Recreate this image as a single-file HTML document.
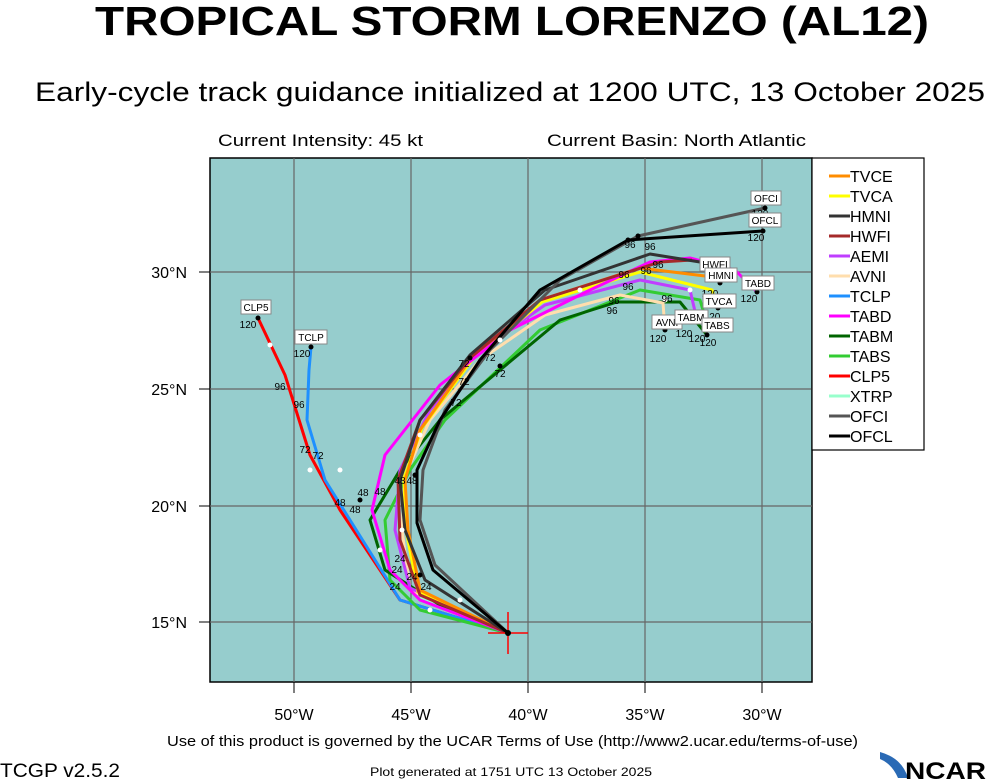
<!DOCTYPE html>
<html><head><meta charset="utf-8"><style>
html,body{margin:0;padding:0;background:#fff;}
svg{display:block;font-family:"Liberation Sans",Arial,sans-serif;}
</style></head><body>
<svg width="987" height="780" viewBox="0 0 987 780" xmlns="http://www.w3.org/2000/svg">
<text x="512" y="35" text-anchor="middle" font-size="41" font-weight="bold" textLength="834" lengthAdjust="spacingAndGlyphs">TROPICAL STORM LORENZO (AL12)</text>
<text x="510" y="101" text-anchor="middle" font-size="27" textLength="950" lengthAdjust="spacingAndGlyphs">Early-cycle track guidance initialized at 1200 UTC, 13 October 2025</text>
<text x="218" y="146" font-size="17" textLength="205" lengthAdjust="spacingAndGlyphs">Current Intensity: 45 kt</text>
<text x="547" y="146" font-size="17" textLength="259" lengthAdjust="spacingAndGlyphs">Current Basin: North Atlantic</text>
<rect x="210" y="158" width="602" height="524" fill="#96cdcd" stroke="#000" stroke-width="1.5"/>
<g stroke="#666" stroke-width="1.2">
<line x1="294" y1="158" x2="294" y2="682"/><line x1="411" y1="158" x2="411" y2="682"/><line x1="528" y1="158" x2="528" y2="682"/><line x1="645" y1="158" x2="645" y2="682"/><line x1="762" y1="158" x2="762" y2="682"/>
<line x1="210" y1="272" x2="812" y2="272"/><line x1="210" y1="389" x2="812" y2="389"/><line x1="210" y1="506" x2="812" y2="506"/><line x1="210" y1="622" x2="812" y2="622"/>
</g>
<g stroke="#000" stroke-width="1"><line x1="294" y1="682" x2="294" y2="693"/><line x1="411" y1="682" x2="411" y2="693"/><line x1="528" y1="682" x2="528" y2="693"/><line x1="645" y1="682" x2="645" y2="693"/><line x1="762" y1="682" x2="762" y2="693"/>
<line x1="199" y1="272" x2="210" y2="272"/><line x1="199" y1="389" x2="210" y2="389"/><line x1="199" y1="506" x2="210" y2="506"/><line x1="199" y1="622" x2="210" y2="622"/></g>
<g font-size="16" text-anchor="middle"><text x="294" y="720">50°W</text><text x="411" y="720">45°W</text><text x="528" y="720">40°W</text><text x="645" y="720">35°W</text><text x="762" y="720">30°W</text></g>
<g font-size="16" text-anchor="end"><text x="187" y="278">30°N</text><text x="187" y="395">25°N</text><text x="187" y="512">20°N</text><text x="187" y="628">15°N</text></g>
<g fill="none" stroke-width="3" stroke-linejoin="round">
<polyline stroke="#98ffcc" points="508,633 420,598"/>
<polyline stroke="#ff0000" points="508,633 400,600 340,510 310,455 285,375 258,318"/>
<polyline stroke="#1e90ff" points="508,633 400,600 350,520 325,480 307,420 309,370 311,347"/>
<polyline stroke="#33cc33" points="508,633 420,610 390,580 385,520 410,470 445,420 540,330 640,290 700,300 706,320"/>
<polyline stroke="#006400" points="508,633 440,605 385,570 370,520 400,470 440,420 500,370 560,320 617,302 680,302 707,335"/>
<polyline stroke="#ffdead" points="508,633 410,590 402,530 405,475 430,420 480,360 545,315 620,295 663,303 665,330"/>
<polyline stroke="#bf3eff" points="508,633 410,588 395,530 400,470 430,410 480,350 545,305 640,280 690,290 697,320"/>
<polyline stroke="#ffff00" points="508,633 418,592 406,530 404,478 422,428 472,360 542,302 640,272 712,290 718,308"/>
<polyline stroke="#ff8c00" points="508,633 420,590 408,530 405,480 420,430 470,360 540,300 640,268 705,276"/>
<polyline stroke="#ff00ff" points="508,633 420,600 390,570 372,510 385,455 440,385 510,330 590,290 650,262 690,258 735,270 757,292"/>
<polyline stroke="#a52a2a" points="508,633 420,595 400,540 398,480 420,420 470,358 540,300 660,262 692,260"/>
<polyline stroke="#333" points="508,633 425,580 405,530 400,480 420,420 470,355 545,290 650,254 700,262 720,283"/>
<polyline stroke="#555" points="508,633 435,565 420,520 423,470 445,410 490,350 560,280 638,236 765,208"/>
<polyline stroke="#000" points="508,633 433,570 417,523 417,470 440,420 480,360 540,290 628,240 763,231"/>
</g>
<g stroke="#ff0000" stroke-width="1.5"><line x1="508" y1="612" x2="508" y2="654"/><line x1="488" y1="633" x2="528" y2="633"/></g>
<circle cx="508" cy="633" r="3"/>
<g fill="#fff"><circle cx="430" cy="610" r="2.5"/><circle cx="460" cy="600" r="2.5"/><circle cx="402" cy="530" r="2.5"/><circle cx="420" cy="435" r="2.5"/><circle cx="500" cy="340" r="2.5"/><circle cx="580" cy="290" r="2.5"/><circle cx="690" cy="290" r="2.5"/><circle cx="665" cy="300" r="2.5"/><circle cx="310" cy="470" r="2.5"/><circle cx="270" cy="345" r="2.5"/><circle cx="340" cy="470" r="2.5"/><circle cx="380" cy="550" r="2.5"/></g>
<g fill="#000"><circle cx="763" cy="231" r="2.5"/><circle cx="765" cy="208" r="2.5"/><circle cx="720" cy="283" r="2.5"/><circle cx="757" cy="292" r="2.5"/><circle cx="718" cy="308" r="2.5"/><circle cx="707" cy="335" r="2.5"/><circle cx="665" cy="330" r="2.5"/><circle cx="258" cy="318" r="2.5"/><circle cx="311" cy="347" r="2.5"/><circle cx="638" cy="236" r="2.5"/><circle cx="628" cy="240" r="2.5"/><circle cx="500" cy="366" r="2.5"/><circle cx="470" cy="358" r="2.5"/><circle cx="360" cy="500" r="2.5"/><circle cx="415" cy="475" r="2.5"/><circle cx="420" cy="575" r="2.5"/></g>
<g font-size="10" text-anchor="middle">
<text x="756" y="241">120</text><text x="760" y="217">120</text><text x="749" y="302">120</text><text x="710" y="297">120</text><text x="712" y="320">120</text><text x="708" y="346">120</text><text x="658" y="342">120</text><text x="684" y="337">120</text><text x="697" y="342">120</text><text x="248" y="328">120</text><text x="302" y="357">120</text>
<text x="630" y="248">96</text><text x="650" y="250">96</text><text x="624" y="278">96</text><text x="646" y="274">96</text><text x="658" y="268">96</text><text x="628" y="290">96</text><text x="614" y="304">96</text><text x="612" y="314">96</text><text x="667" y="302">96</text><text x="280" y="390">96</text><text x="299" y="408">96</text>
<text x="464" y="367">72</text><text x="490" y="361">72</text><text x="464" y="385">72</text><text x="456" y="406">72</text><text x="500" y="377">72</text><text x="305" y="453">72</text><text x="318" y="459">72</text>
<text x="340" y="506">48</text><text x="363" y="496">48</text><text x="355" y="513">48</text><text x="380" y="495">48</text><text x="400" y="484">48</text><text x="412" y="484">48</text>
<text x="400" y="562">24</text><text x="397" y="573">24</text><text x="395" y="590">24</text><text x="412" y="580">24</text><text x="426" y="590">24</text>
</g>
<g font-size="10" text-anchor="middle">
<rect x="751" y="191" width="30" height="14" fill="#fff" stroke="#888"/><text x="766" y="202">OFCI</text>
<rect x="749" y="213" width="32" height="14" fill="#fff" stroke="#888"/><text x="765" y="224">OFCL</text>
<rect x="700" y="257" width="30" height="14" fill="#fff" stroke="#888"/><text x="715" y="268">HWFI</text>
<rect x="705" y="268" width="32" height="14" fill="#fff" stroke="#888"/><text x="721" y="279">HMNI</text>
<rect x="742" y="276" width="32" height="14" fill="#fff" stroke="#888"/><text x="758" y="287">TABD</text>
<rect x="703" y="294" width="33" height="14" fill="#fff" stroke="#888"/><text x="719" y="305">TVCA</text>
<rect x="652" y="315" width="30" height="14" fill="#fff" stroke="#888"/><text x="667" y="326">AVNI</text>
<rect x="675" y="310" width="33" height="14" fill="#fff" stroke="#888"/><text x="691" y="321">TABM</text>
<rect x="702" y="318" width="31" height="14" fill="#fff" stroke="#888"/><text x="717" y="329">TABS</text>
<rect x="241" y="300" width="30" height="14" fill="#fff" stroke="#888"/><text x="256" y="311">CLP5</text>
<rect x="295" y="330" width="32" height="14" fill="#fff" stroke="#888"/><text x="311" y="341">TCLP</text>
</g>
<rect x="812" y="158" width="112" height="292" fill="#fff" stroke="#000" stroke-width="1.2"/>
<g stroke-width="3">
<line x1="829" y1="176" x2="850" y2="176" stroke="#ff8c00"/><line x1="829" y1="196" x2="850" y2="196" stroke="#ffff00"/><line x1="829" y1="216" x2="850" y2="216" stroke="#333"/><line x1="829" y1="236" x2="850" y2="236" stroke="#a52a2a"/><line x1="829" y1="256" x2="850" y2="256" stroke="#bf3eff"/><line x1="829" y1="276" x2="850" y2="276" stroke="#ffdead"/><line x1="829" y1="296" x2="850" y2="296" stroke="#1e90ff"/><line x1="829" y1="316" x2="850" y2="316" stroke="#ff00ff"/><line x1="829" y1="336" x2="850" y2="336" stroke="#006400"/><line x1="829" y1="356" x2="850" y2="356" stroke="#33cc33"/><line x1="829" y1="376" x2="850" y2="376" stroke="#ff0000"/><line x1="829" y1="396" x2="850" y2="396" stroke="#98ffcc"/><line x1="829" y1="416" x2="850" y2="416" stroke="#555"/><line x1="829" y1="436" x2="850" y2="436" stroke="#000"/>
</g>
<g font-size="16"><text x="850" y="182">TVCE</text><text x="850" y="202">TVCA</text><text x="850" y="222">HMNI</text><text x="850" y="242">HWFI</text><text x="850" y="262">AEMI</text><text x="850" y="282">AVNI</text><text x="850" y="302">TCLP</text><text x="850" y="322">TABD</text><text x="850" y="342">TABM</text><text x="850" y="362">TABS</text><text x="850" y="382">CLP5</text><text x="850" y="402">XTRP</text><text x="850" y="422">OFCI</text><text x="850" y="442">OFCL</text></g>
<text x="167" y="746" font-size="15" textLength="691" lengthAdjust="spacingAndGlyphs">Use of this product is governed by the UCAR Terms of Use (http://www2.ucar.edu/terms-of-use)</text>
<text x="0" y="777" font-size="19" textLength="120" lengthAdjust="spacingAndGlyphs">TCGP v2.5.2</text>
<text x="370" y="776" font-size="12" textLength="282" lengthAdjust="spacingAndGlyphs">Plot generated at 1751 UTC   13 October 2025</text>
<path d="M880 752 Q902 758 908 778 L898 778 Q892 764 880 759 Z" fill="#2a6ab5"/>
<text x="905" y="779" font-size="24" font-weight="bold" textLength="81" lengthAdjust="spacingAndGlyphs">NCAR</text>
</svg>
</body></html>
